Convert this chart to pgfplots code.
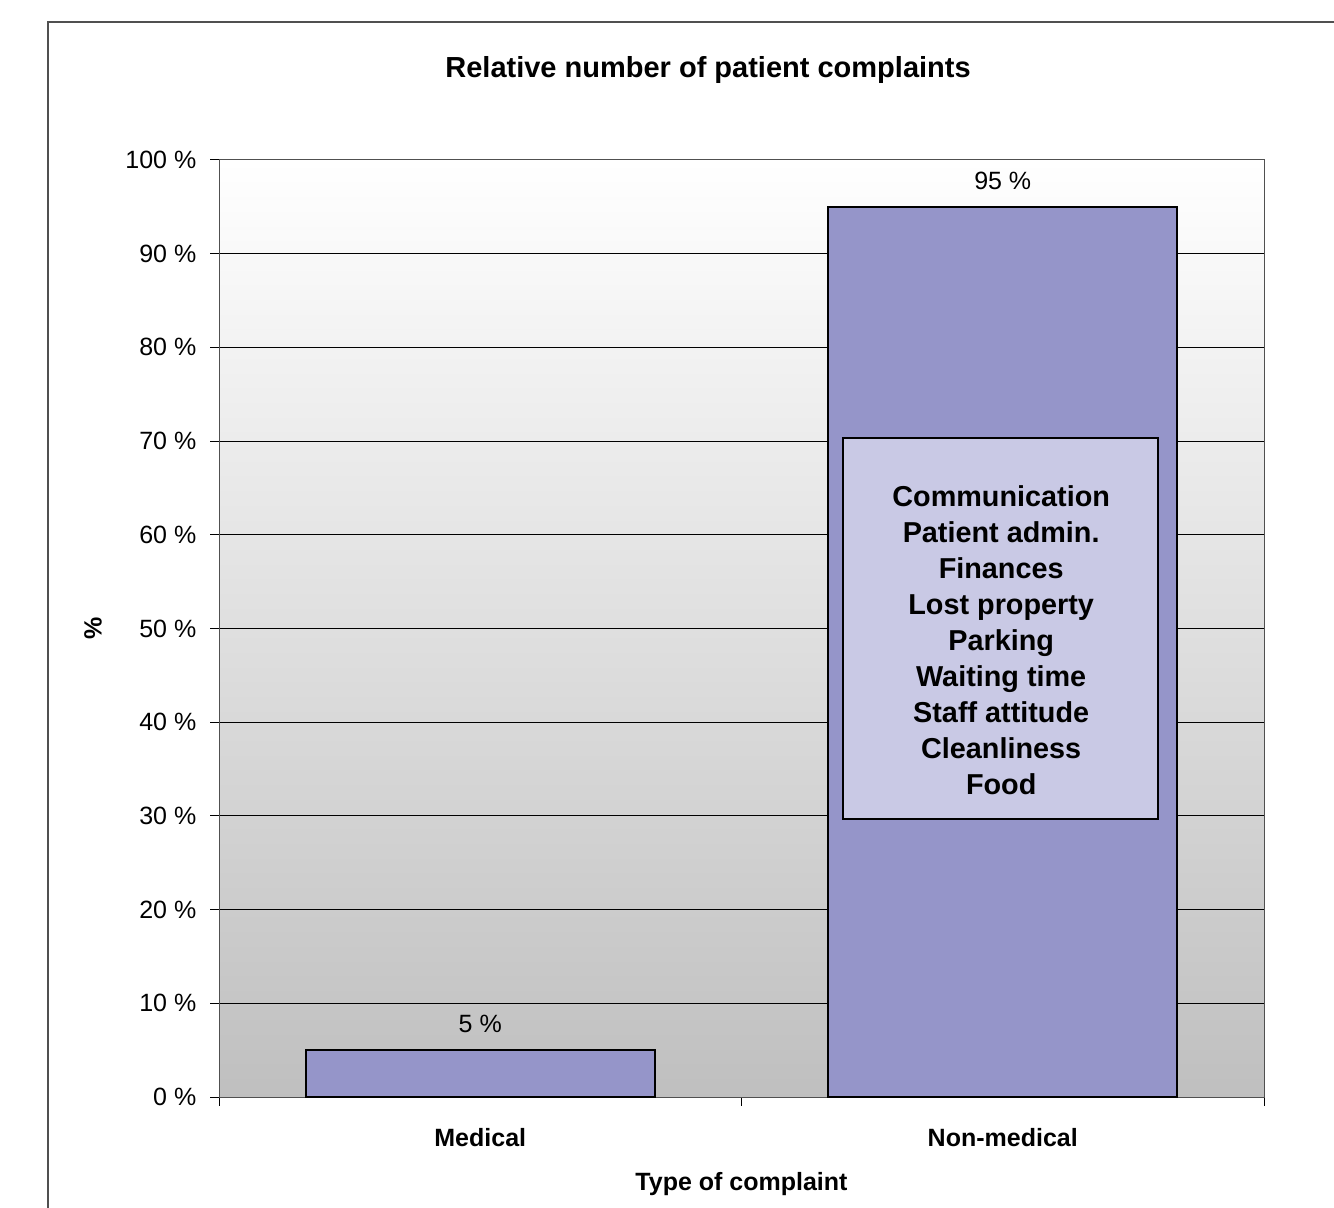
\documentclass[border=0pt]{standalone}
\usepackage{fontspec}
\setmainfont{Liberation Sans}
\usepackage{pgfplots}
\pgfplotsset{compat=1.18}

\definecolor{barfill}{RGB}{149,149,201}
\definecolor{boxfill}{RGB}{201,201,229}
\definecolor{framegray}{RGB}{80,80,80}

\begin{document}
\fontsize{12.5bp}{15bp}\selectfont
\begin{tikzpicture}
\useasboundingbox (0,0) rectangle (667bp,604bp);
% outer chart frame (runs off right and bottom edge)
\draw[framegray, line width=1bp] (24bp,0) -- (24bp,593bp) -- (667bp,593bp);

\begin{axis}[
    at={(109.5bp,55.5bp)}, anchor=south west,
    scale only axis,
    width=522.5bp, height=468.5bp,
    ybar, bar width=174.5bp,
    xmin=-0.5, xmax=1.5,
    ymin=0, ymax=100,
    ytick={0,10,...,100},
    ytick pos=left,
    xtick pos=bottom,
    xtick={-0.5,0.5,1.5},
    xticklabels={},
    extra x ticks={0,1},
    extra x tick labels={\textbf{Medical},\textbf{Non-medical}},
    extra x tick style={major tick length=0pt, grid=none},
    tick align=outside,
    major tick length=4.5bp,
    tick style={draw=black, line width=0.5bp},
    ymajorgrids,
    major grid style={black, line width=0.5bp},
    axis line style={framegray, line width=0.5bp},
    /pgf/number format/assume math mode=true,
    yticklabel={\pgfmathprintnumber{\tick}~\%},
    yticklabel style={anchor=east, xshift=-2.5bp, font=\fontsize{12.5bp}{15bp}\selectfont},
    xticklabel style={anchor=center, yshift=-20.5bp, font=\fontsize{12.5bp}{15bp}\selectfont},
    axis background/.style={top color=white, bottom color=black!25},
    title={\textbf{Relative number of patient complaints}},
    title style={at={(axis description cs:0.468,1.0833)}, anchor=center, font=\fontsize{14.5bp}{17bp}\selectfont},
    xlabel={\textbf{Type of complaint}},
    xlabel style={at={(axis description cs:0.5,-0.0929)}, anchor=center},
    ylabel={\textbf{\%}},
    ylabel style={at={(axis description cs:-0.1206,0.5)}, anchor=center},
    nodes near coords={\pgfmathprintnumber{\pgfplotspointmeta}~\%},
    nodes near coords style={anchor=center, yshift=13bp, font=\fontsize{12.5bp}{15bp}\selectfont, black},
    clip=false,
]
\addplot[fill=barfill, draw=black, line width=1bp] coordinates {(0,5) (1,95)};
\draw[fill=boxfill, draw=black, line width=1bp] (axis cs:0.694,29.7) rectangle (axis cs:1.297,70.3);
\node[align=center, font=\bfseries\fontsize{14.4bp}{18bp}\selectfont] at (axis cs:0.997,48.7)
  {Communication\\Patient admin.\\Finances\\Lost property\\Parking\\Waiting time\\Staff attitude\\Cleanliness\\Food};
\end{axis}
\end{tikzpicture}
\end{document}
